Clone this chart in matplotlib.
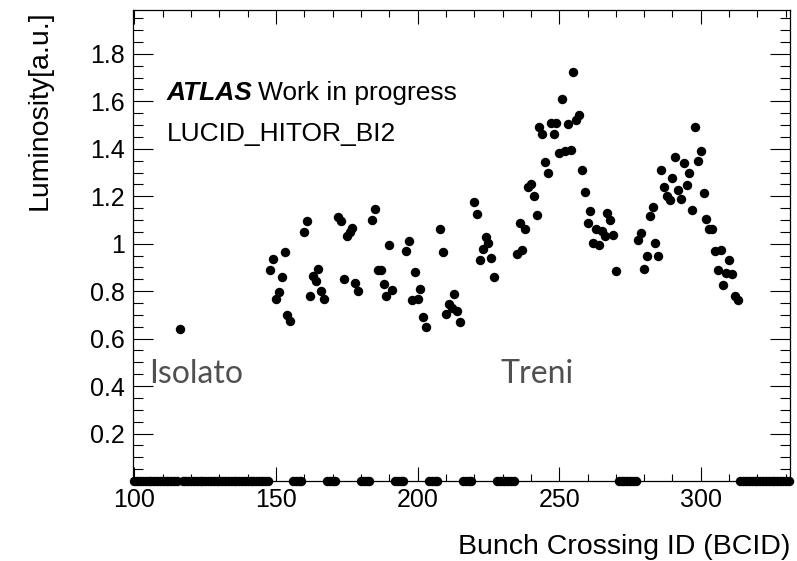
import numpy as np
import matplotlib
matplotlib.use("Agg")
import matplotlib.pyplot as plt
from matplotlib.ticker import MultipleLocator, FixedLocator

plt.rcParams['font.family'] = ['Liberation Sans', 'DejaVu Sans']

# luminosity per bunch
iso_bcid = [116]
iso_lumi = [0.639]

# 8-bunch trains, first BCID of each
short_start = [148, 160, 172, 184, 196, 208, 220]
short_lumi = [
    [0.889, 0.937, 0.767, 0.795, 0.861, 0.965, 0.701, 0.673],
    [1.050, 1.095, 0.781, 0.863, 0.842, 0.892, 0.800, 0.765],
    [1.113, 1.095, 0.851, 1.033, 1.050, 1.067, 0.835, 0.800],
    [1.102, 1.148, 0.888, 0.890, 0.829, 0.781, 0.994, 0.807],
    [0.968, 1.013, 0.762, 0.880, 0.769, 0.809, 0.691, 0.649],
    [1.062, 0.963, 0.705, 0.744, 0.731, 0.790, 0.715, 0.670],
    [1.176, 1.127, 0.933, 0.977, 1.029, 1.001, 0.938, 0.860],
]

# 36-bunch trains
long_start = [235, 278]
long_lumi = [
    [0.957, 1.089, 0.974, 1.064, 1.240, 1.250, 1.203, 1.122, 1.494, 1.462,
     1.345, 1.299, 1.508, 1.462, 1.510, 1.383, 1.609, 1.392, 1.504, 1.395,
     1.724, 1.520, 1.543, 1.310, 1.216, 1.088, 1.138, 1.003, 1.064, 0.993,
     1.054, 1.034, 1.130, 1.099, 1.037, 0.885],
    [1.017, 1.045, 0.893, 0.949, 1.115, 1.153, 1.003, 0.947, 1.310, 1.237,
     1.202, 1.185, 1.277, 1.367, 1.228, 1.189, 1.339, 1.249, 1.298, 1.141,
     1.490, 1.348, 1.392, 1.212, 1.106, 1.064, 1.061, 0.970, 0.891, 0.975,
     0.825, 0.877, 0.930, 0.874, 0.778, 0.764],
]

bcid_first, bcid_last = 100, 331

x, y = list(iso_bcid), list(iso_lumi)
for s, vals in zip(short_start + long_start, short_lumi + long_lumi):
    x += list(range(s, s + len(vals)))
    y += vals
# empty bunches
empty = [b for b in range(bcid_first, bcid_last + 1) if b not in x]
x += empty
y += [0.0] * len(empty)

W, H = 797, 561
fig = plt.figure(figsize=(W / 100, H / 100), dpi=100)
ax = fig.add_axes([133 / W, 1 - 481 / H, (790 - 133) / W, (481 - 10) / H])

ax.plot(x, y, 'o', color='black', markersize=6.8, markeredgewidth=0, clip_on=False, zorder=3)

ax.set_xlim(99.5, 331.5)
ax.set_ylim(0, 1.985)

ax.xaxis.set_major_locator(FixedLocator([100, 150, 200, 250, 300]))
ax.xaxis.set_minor_locator(MultipleLocator(10))
yt = [0.2, 0.4, 0.6, 0.8, 1.0, 1.2, 1.4, 1.6, 1.8]
ax.yaxis.set_major_locator(FixedLocator(yt))
ax.set_yticklabels(['0.2', '0.4', '0.6', '0.8', '1', '1.2', '1.4', '1.6', '1.8'])
ax.yaxis.set_minor_locator(MultipleLocator(0.05))

ax.tick_params(which='both', direction='in', top=True, right=True, width=0.8, labelsize=18)
ax.tick_params(axis='x', which='major', length=10, pad=5)
ax.tick_params(axis='x', which='minor', length=5)
ax.tick_params(axis='y', which='major', length=14.5, pad=6)
ax.tick_params(axis='y', which='minor', length=7)
for sp in ax.spines.values():
    sp.set_linewidth(0.9)

fig.text(40 / W, 1 - 10 / H, 'Luminosity[a.u.]', rotation=90, ha='center', va='top', fontsize=20.5)
fig.text(790 / W, 1 - 547 / H, 'Bunch Crossing ID (BCID)', ha='right', va='center', fontsize=20.5)

fig.text(167 / W, 1 - 100 / H, 'ATLAS', fontsize=19, fontweight='bold', style='italic', va='baseline')
fig.text(258 / W, 1 - 100 / H, 'Work in progress', fontsize=19, va='baseline')
fig.text(167 / W, 1 - 141 / H, 'LUCID_HITOR_BI2', fontsize=19, va='baseline')

fig.text(149 / W, 1 - 383 / H, 'Isolato', fontsize=23, family=['Lato', 'DejaVu Sans'], color='#505050', va='baseline')
fig.text(500 / W, 1 - 383 / H, 'Treni', fontsize=23, family=['Lato', 'DejaVu Sans'], color='#505050', va='baseline')

fig.savefig('out.png', dpi=100)
